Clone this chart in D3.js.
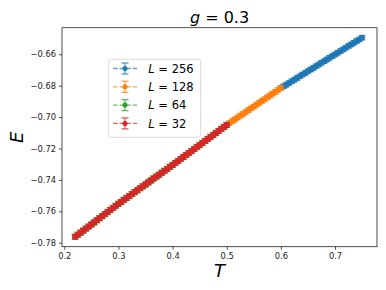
<!DOCTYPE html>
<html>
<head>
<meta charset="utf-8">
<script src="https://cdn.jsdelivr.net/npm/d3@7"></script>
<style>
html,body{margin:0;padding:0;background:#fff;}
svg{display:block;font-family:"DejaVu Sans",sans-serif;}
</style>
</head>
<body>
<svg id="chart" width="386" height="290"></svg>
<script>
// ---- data ----
const seriesLabels = ["256", "128", "64", "32"];
const seriesColors = ["#1f77b4", "#ff7f0e", "#2ca02c", "#d62728"];

const T_L256 = [0.600,0.605,0.610,0.615,0.620,0.625,0.630,0.635,0.640,0.645,0.650,0.655,0.660,0.665,0.670,0.675,0.680,0.685,0.690,0.695,0.700,0.705,0.710,0.715,0.720,0.725,0.730,0.735,0.740,0.745,0.750];
const E_L256 = [-0.6815,-0.6804,-0.6794,-0.6783,-0.6772,-0.6762,-0.6751,-0.6740,-0.6729,-0.6719,-0.6708,-0.6697,-0.6687,-0.6676,-0.6665,-0.6654,-0.6644,-0.6633,-0.6622,-0.6612,-0.6601,-0.6590,-0.6580,-0.6569,-0.6558,-0.6547,-0.6537,-0.6526,-0.6515,-0.6505,-0.6494];

const T_L128 = [0.500,0.505,0.510,0.515,0.520,0.525,0.530,0.535,0.540,0.545,0.550,0.555,0.560,0.565,0.570,0.575,0.580,0.585,0.590,0.595,0.600];
const E_L128 = [-0.7050,-0.7038,-0.7026,-0.7015,-0.7003,-0.6991,-0.6980,-0.6968,-0.6956,-0.6944,-0.6933,-0.6921,-0.6909,-0.6897,-0.6886,-0.6874,-0.6862,-0.6850,-0.6839,-0.6827,-0.6815];

const T_L64 = [0.220,0.225,0.230,0.235,0.240,0.245,0.250,0.255,0.260,0.265,0.270,0.275,0.280,0.285,0.290,0.295,0.300,0.305,0.310,0.315,0.320,0.325,0.330,0.335,0.340,0.345,0.350,0.355,0.360,0.365,0.370,0.375,0.380,0.385,0.390,0.395,0.400,0.405,0.410,0.415,0.420,0.425,0.430,0.435,0.440,0.445,0.450,0.455,0.460,0.465,0.470,0.475,0.480,0.485,0.490,0.495,0.500];
const E_L64 = [-0.7762,-0.7749,-0.7736,-0.7723,-0.7710,-0.7697,-0.7684,-0.7671,-0.7657,-0.7644,-0.7631,-0.7618,-0.7605,-0.7591,-0.7578,-0.7565,-0.7552,-0.7540,-0.7527,-0.7515,-0.7503,-0.7490,-0.7478,-0.7466,-0.7453,-0.7441,-0.7429,-0.7416,-0.7404,-0.7391,-0.7379,-0.7367,-0.7354,-0.7342,-0.7330,-0.7317,-0.7305,-0.7292,-0.7280,-0.7267,-0.7254,-0.7241,-0.7229,-0.7216,-0.7203,-0.7190,-0.7178,-0.7165,-0.7152,-0.7139,-0.7126,-0.7114,-0.7101,-0.7088,-0.7075,-0.7063,-0.7050];

const T_L32 = [0.220,0.225,0.230,0.235,0.240,0.245,0.250,0.255,0.260,0.265,0.270,0.275,0.280,0.285,0.290,0.295,0.300,0.305,0.310,0.315,0.320,0.325,0.330,0.335,0.340,0.345,0.350,0.355,0.360,0.365,0.370,0.375,0.380,0.385,0.390,0.395,0.400,0.405,0.410,0.415,0.420,0.425,0.430,0.435,0.440,0.445,0.450,0.455,0.460,0.465,0.470,0.475,0.480,0.485,0.490,0.495,0.500];
const E_L32 = [-0.7762,-0.7749,-0.7736,-0.7723,-0.7710,-0.7697,-0.7684,-0.7671,-0.7657,-0.7644,-0.7631,-0.7618,-0.7605,-0.7591,-0.7578,-0.7565,-0.7552,-0.7540,-0.7527,-0.7515,-0.7503,-0.7490,-0.7478,-0.7466,-0.7453,-0.7441,-0.7429,-0.7416,-0.7404,-0.7391,-0.7379,-0.7367,-0.7354,-0.7342,-0.7330,-0.7317,-0.7305,-0.7292,-0.7280,-0.7267,-0.7254,-0.7241,-0.7229,-0.7216,-0.7203,-0.7190,-0.7178,-0.7165,-0.7152,-0.7139,-0.7126,-0.7114,-0.7101,-0.7088,-0.7075,-0.7063,-0.7050];

const errors = [0.0014, 0.0014, 0.0016, 0.0014];

const xTicks = [0.2, 0.3, 0.4, 0.5, 0.6, 0.7];
const yTicks = [-0.78, -0.76, -0.74, -0.72, -0.70, -0.68, -0.66];

const series = [
  {T: T_L256, E: E_L256},
  {T: T_L128, E: E_L128},
  {T: T_L64, E: E_L64},
  {T: T_L32, E: E_L32}
].map((s, i) => ({label: seriesLabels[i], color: seriesColors[i], err: errors[i],
  pts: s.T.map((t, j) => ({t, e: s.E[j]}))}));

// ---- layout ----
const svg = d3.select("#chart");
const L = 62, R = 377, TOP = 27.7, BOT = 246.7;
const x = d3.scaleLinear().domain([0.19575, 0.7776]).range([L, R]);
const y = d3.scaleLinear().domain([-0.78255, -0.64306]).range([BOT, TOP]);
const fmt = v => d3.format(".2f")(v).replace("-", "\u2212");
const fmtx = v => d3.format(".1f")(v);

// axes
const xAxis = d3.axisBottom(x).tickValues(xTicks).tickFormat(fmtx).tickSize(3).tickPadding(3);
const yAxis = d3.axisLeft(y).tickValues(yTicks).tickFormat(fmt).tickSize(3).tickPadding(3);
const gx = svg.append("g").attr("transform", `translate(0,${BOT})`).call(xAxis);
const gy = svg.append("g").attr("transform", `translate(${L},0)`).call(yAxis);
[gx, gy].forEach(g => {
  g.select(".domain").remove();
  g.selectAll("line").attr("stroke", "#222").attr("stroke-width", 0.8);
  g.selectAll("text").attr("fill", "#222").style("font-size", "8.3px").style("font-family", "DejaVu Sans");
});

// plot clip
svg.append("clipPath").attr("id", "clip").append("rect")
  .attr("x", L).attr("y", TOP).attr("width", R - L).attr("height", BOT - TOP);
const plot = svg.append("g").attr("clip-path", "url(#clip)");

const line = d3.line().x(d => x(d.t)).y(d => y(d.e));
const capW = 3.3;
series.forEach(s => {
  const g = plot.append("g");
  g.append("path").datum(s.pts).attr("d", line).attr("fill", "none")
    .attr("stroke", s.color).attr("stroke-width", 1.3).attr("stroke-dasharray", "4.6,2").attr("opacity", 0.7);
  const eb = g.append("g").attr("stroke", s.color).attr("stroke-width", 1.3).attr("opacity", 0.8);
  eb.selectAll("line.v").data(s.pts).join("line").attr("class", "v")
    .attr("x1", d => x(d.t)).attr("x2", d => x(d.t))
    .attr("y1", d => y(d.e - s.err)).attr("y2", d => y(d.e + s.err));
  eb.selectAll("line.cl").data(s.pts).join("line").attr("class", "cl")
    .attr("x1", d => x(d.t) - capW).attr("x2", d => x(d.t) + capW)
    .attr("y1", d => y(d.e - s.err)).attr("y2", d => y(d.e - s.err));
  eb.selectAll("line.ch").data(s.pts).join("line").attr("class", "ch")
    .attr("x1", d => x(d.t) - capW).attr("x2", d => x(d.t) + capW)
    .attr("y1", d => y(d.e + s.err)).attr("y2", d => y(d.e + s.err));
  g.selectAll("circle").data(s.pts).join("circle")
    .attr("cx", d => x(d.t)).attr("cy", d => y(d.e)).attr("r", 2.9).attr("fill", s.color);
});

// frame
svg.append("rect").attr("x", L).attr("y", TOP).attr("width", R - L).attr("height", BOT - TOP)
  .attr("fill", "none").attr("stroke", "#222").attr("stroke-width", 0.8);

// title
const title = svg.append("text").attr("x", (L + R) / 2).attr("y", 22.5).attr("text-anchor", "middle")
  .style("font-size", "16px").attr("fill", "#000");
title.append("tspan").style("font-style", "italic").text("g");
title.append("tspan").text(" = 0.3");

// axis labels
svg.append("text").attr("x", (L + R) / 2).attr("y", 276.5).attr("text-anchor", "middle")
  .style("font-size", "18px").style("font-style", "italic").text("T");
svg.append("text").attr("transform", `translate(22.5,${(TOP + BOT) / 2}) rotate(-90)`).attr("text-anchor", "middle")
  .style("font-size", "18px").style("font-style", "italic").text("E");

// legend
const lg = svg.append("g");
lg.append("rect").attr("x", 108.3).attr("y", 59.3).attr("width", 92.4).attr("height", 78)
  .attr("rx", 2.5).attr("fill", "#fff").attr("fill-opacity", 0.85).attr("stroke", "#d0d0d0").attr("stroke-width", 0.8);
series.forEach((s, i) => {
  const cy = 68.5 + i * 18.3;
  const g = lg.append("g");
  g.append("line").attr("x1", 113).attr("x2", 137).attr("y1", cy).attr("y2", cy)
    .attr("stroke", s.color).attr("stroke-width", 1.3).attr("stroke-dasharray", "4.6,2").attr("opacity", 0.7);
  const eb = g.append("g").attr("stroke", s.color).attr("stroke-width", 1.3).attr("opacity", 0.75);
  eb.append("line").attr("x1", 125).attr("x2", 125).attr("y1", cy - 5.5).attr("y2", cy + 5.5);
  eb.append("line").attr("x1", 121.5).attr("x2", 128.5).attr("y1", cy - 5.5).attr("y2", cy - 5.5);
  eb.append("line").attr("x1", 121.5).attr("x2", 128.5).attr("y1", cy + 5.5).attr("y2", cy + 5.5);
  g.append("circle").attr("cx", 125).attr("cy", cy).attr("r", 2.5).attr("fill", s.color);
  const t = g.append("text").attr("x", 148.3).attr("y", cy + 4.2).style("font-size", "11.5px");
  t.append("tspan").style("font-style", "italic").text("L");
  t.append("tspan").text(" = " + s.label);
});
</script>
</body>
</html>
